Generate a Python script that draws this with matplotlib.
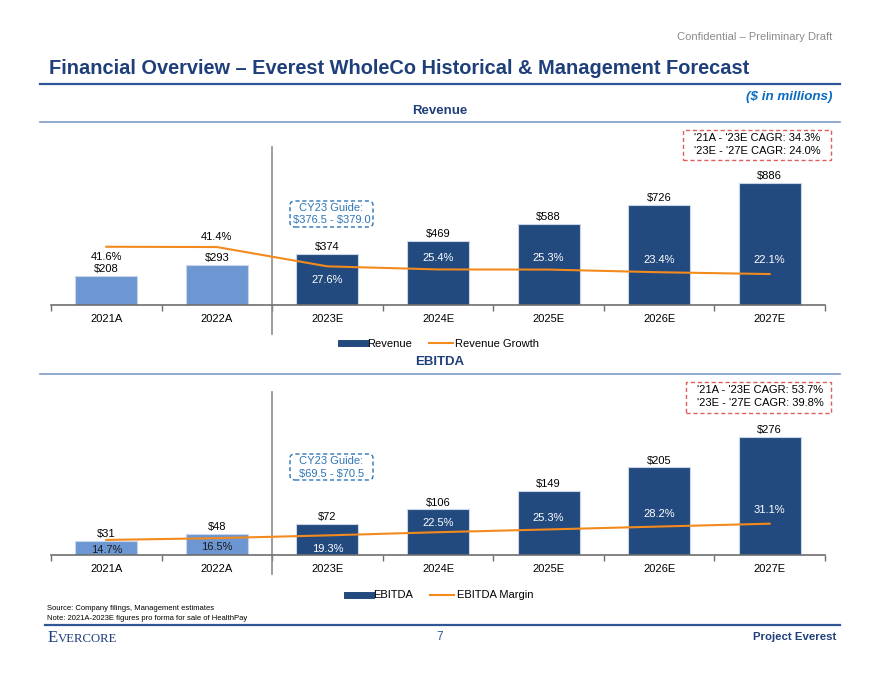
import matplotlib.pyplot as plt
from matplotlib.lines import Line2D
from matplotlib.patches import FancyBboxPatch, Rectangle

plt.rcParams['font.family'] = ['Liberation Sans', 'DejaVu Sans']
plt.rcParams['text.parse_math'] = False

# Data
years = ['2021A', '2022A', '2023E', '2024E', '2025E', '2026E', '2027E']
revenue = [208, 293, 374, 469, 588, 726, 886]
revenue_growth = [41.6, 41.4, 27.6, 25.4, 25.3, 23.4, 22.1]
ebitda = [31, 48, 72, 106, 149, 205, 276]
ebitda_margin = [14.7, 16.5, 19.3, 22.5, 25.3, 28.2, 31.1]
n_actual = 2
rev_cagr = ["'21A - '23E CAGR: 34.3%", "'23E - '27E CAGR: 24.0%"]
ebitda_cagr = ["'21A - '23E CAGR: 53.7%", "'23E - '27E CAGR: 39.8%"]
rev_guide = ['CY23 Guide:', '$376.5 - $379.0']
ebitda_guide = ['CY23 Guide:', '$69.5 - $70.5']

W, H = 880, 680
NAVY = '#1F3F7A'
DARK = '#234A7E'
LIGHT = '#6C97D3'
ORANGE = '#F28A1E'
GUIDE = '#2E75B6'
CAGR_RED = '#E06060'


def fx(x):
    return x / W


def fy(y):
    return 1 - y / H


fig = plt.figure(figsize=(8.8, 6.8), dpi=100)


def fig_text(x, y, s, **kw):
    fig.text(fx(x), fy(y), s, **kw)


def hrule(y, x0, x1, color, lw):
    fig.add_artist(Line2D([fx(x0), fx(x1)], [fy(y), fy(y)], color=color, lw=lw,
                          transform=fig.transFigure))


# Header
fig_text(832, 37, 'Confidential \u2013 Preliminary Draft', ha='right', va='center',
         fontsize=8, color='#8C8C8C')
fig_text(49, 68, 'Financial Overview \u2013 Everest WholeCo Historical & Management Forecast',
         ha='left', va='center', fontsize=14.4, fontweight='bold', color=NAVY)
hrule(83.5, 40, 840, '#2F5597', 1.6)
fig_text(832, 97, '($ in millions)', ha='right', va='center', fontsize=9.6,
         fontweight='bold', fontstyle='italic', color='#0A6CC0')


def dashed_box(x0, y0, x1, y1, color, rounded):
    if rounded:
        p = FancyBboxPatch((fx(x0), fy(y1)), fx(x1) - fx(x0), fy(y0) - fy(y1),
                           boxstyle='round,pad=0,rounding_size=0.006',
                           transform=fig.transFigure, fill=False, ec=color,
                           lw=1.0, ls=(0, (3, 2)))
    else:
        p = Rectangle((fx(x0), fy(y1)), fx(x1) - fx(x0), fy(y0) - fy(y1),
                      transform=fig.transFigure, fill=False, ec=color,
                      lw=1.0, ls=(0, (3, 2)))
    fig.add_artist(p)


def panel(top, base, heading_y, values, pcts, ymax, pmax, pct_offsets, pct_colors,
          cagr, cagr_box, guide, guide_box, names, legend_y, sep_span):
    fig_text(440, heading_y, names[0], ha='center', va='center', fontsize=9.5,
             fontweight='bold', color=NAVY)
    hrule(heading_y + 11.5, 40, 840, '#7F9CC8', 1.2)

    ax = fig.add_axes([fx(51), fy(base), fx(825) - fx(51), fy(top) - fy(base)])
    colors = [LIGHT] * n_actual + [DARK] * (len(values) - n_actual)
    x = list(range(len(values)))
    ax.bar(x, values, width=0.56, color=colors, edgecolor='#C9D6EA', linewidth=0.8)
    for i, v in enumerate(values):
        ax.annotate(f'${v}', (i, v), xytext=(0, 5), textcoords='offset points',
                    ha='center', va='center', fontsize=8, color='black')
    ax.set_xlim(-0.5, len(values) - 0.5)
    ax.set_ylim(0, ymax)
    for s in ['top', 'left', 'right']:
        ax.spines[s].set_visible(False)
    ax.spines['bottom'].set_color('#6E6E6E')
    ax.spines['bottom'].set_linewidth(1.2)
    ax.set_yticks([])
    ax.set_xticks(x)
    ax.set_xticklabels(years, fontsize=8)
    ax.tick_params(axis='x', which='major', length=0, pad=6.5)
    ax.set_xticks([i - 0.5 for i in range(len(values) + 1)], minor=True)
    ax.tick_params(axis='x', which='minor', length=4, color='#6E6E6E', width=1)
    span = base - top
    ax.axvline(n_actual - 0.5, ymin=(base - sep_span[1]) / span,
               ymax=(base - sep_span[0]) / span, color='#8C8C8C', lw=1.2, clip_on=False)

    ax2 = ax.twinx()
    ax2.set_ylim(0, pmax)
    ax2.plot(x, pcts, color=ORANGE, lw=1.5)
    ax2.axis('off')
    for i, p in enumerate(pcts):
        ax2.annotate(f'{p:.1f}%', (i, p), xytext=(0, pct_offsets[i]),
                     textcoords='offset points', ha='center', va='center',
                     fontsize=8, color=pct_colors[i])

    # CAGR box
    bx0, by0, bx1, by1 = cagr_box
    dashed_box(bx0, by0, bx1, by1, CAGR_RED, False)
    fig_text(bx0 + 11, by0 + 8, cagr[0], ha='left', va='center', fontsize=8)
    fig_text(bx0 + 11, by0 + 21.5, cagr[1], ha='left', va='center', fontsize=8)

    # Guidance box
    gx0, gy0, gx1, gy1 = guide_box
    dashed_box(gx0, gy0, gx1, gy1, GUIDE, True)
    cx = (gx0 + gx1) / 2
    fig_text(cx, gy0 + 7, guide[0], ha='center', va='center', fontsize=8, color=GUIDE)
    fig_text(cx, gy0 + 19.5, guide[1], ha='center', va='center', fontsize=8, color=GUIDE)

    handles = [Line2D([], [], color=DARK, lw=5), Line2D([], [], color=ORANGE, lw=1.5)]
    fig.legend(handles, names, loc='center', bbox_to_anchor=(fx(440), fy(legend_y)),
               ncol=2, frameon=False, fontsize=8, handlelength=2.2,
               handletextpad=0.2, columnspacing=1.5)


panel(top=150, base=305, heading_y=110.5, values=revenue, pcts=revenue_growth,
      ymax=886 * 155 / 121.7, pmax=110.7,
      pct_offsets=[-7.2, 7.2, -10, 8.3, 8.2, 9, 9.8],
      pct_colors=['black', 'black'] + ['white'] * 5,
      cagr=rev_cagr, cagr_box=(683, 130, 831, 160),
      guide=rev_guide, guide_box=(290, 201, 373, 227),
      names=['Revenue', 'Revenue Growth'], legend_y=344, sep_span=(147, 334))

panel(top=394, base=554.5, heading_y=362, values=ebitda, pcts=ebitda_margin,
      ymax=276 * 160.5 / 117.2, pmax=162,
      pct_offsets=[-7.2, -6.5, -9.6, 6.5, 8.4, 9.4, 10],
      pct_colors=['#1A1A1A', '#1A1A1A'] + ['white'] * 5,
      cagr=ebitda_cagr, cagr_box=(686, 382, 831, 413),
      guide=ebitda_guide, guide_box=(290, 454, 373, 480),
      names=['EBITDA', 'EBITDA Margin'], legend_y=595.5, sep_span=(392, 574))

# Footer
fig_text(47, 609, 'Source: Company filings, Management estimates', ha='left', va='center',
         fontsize=5.5)
fig_text(47, 618, 'Note: 2021A-2023E figures pro forma for sale of HealthPay', ha='left',
         va='center', fontsize=5.5)
hrule(625, 45, 840, '#2F5597', 1.6)
fig_text(48, 638, 'E', ha='left', va='center', fontsize=12, color=NAVY,
         family='Liberation Serif')
fig_text(57.5, 638.8, 'VERCORE', ha='left', va='center', fontsize=9.2, color=NAVY,
         family='Liberation Serif')
fig_text(440, 637, '7', ha='center', va='center', fontsize=8.5, color='#2F5597')
fig_text(836, 637, 'Project Everest', ha='right', va='center', fontsize=8.2,
         fontweight='bold', color=NAVY)

fig.savefig('out.png', dpi=100)
